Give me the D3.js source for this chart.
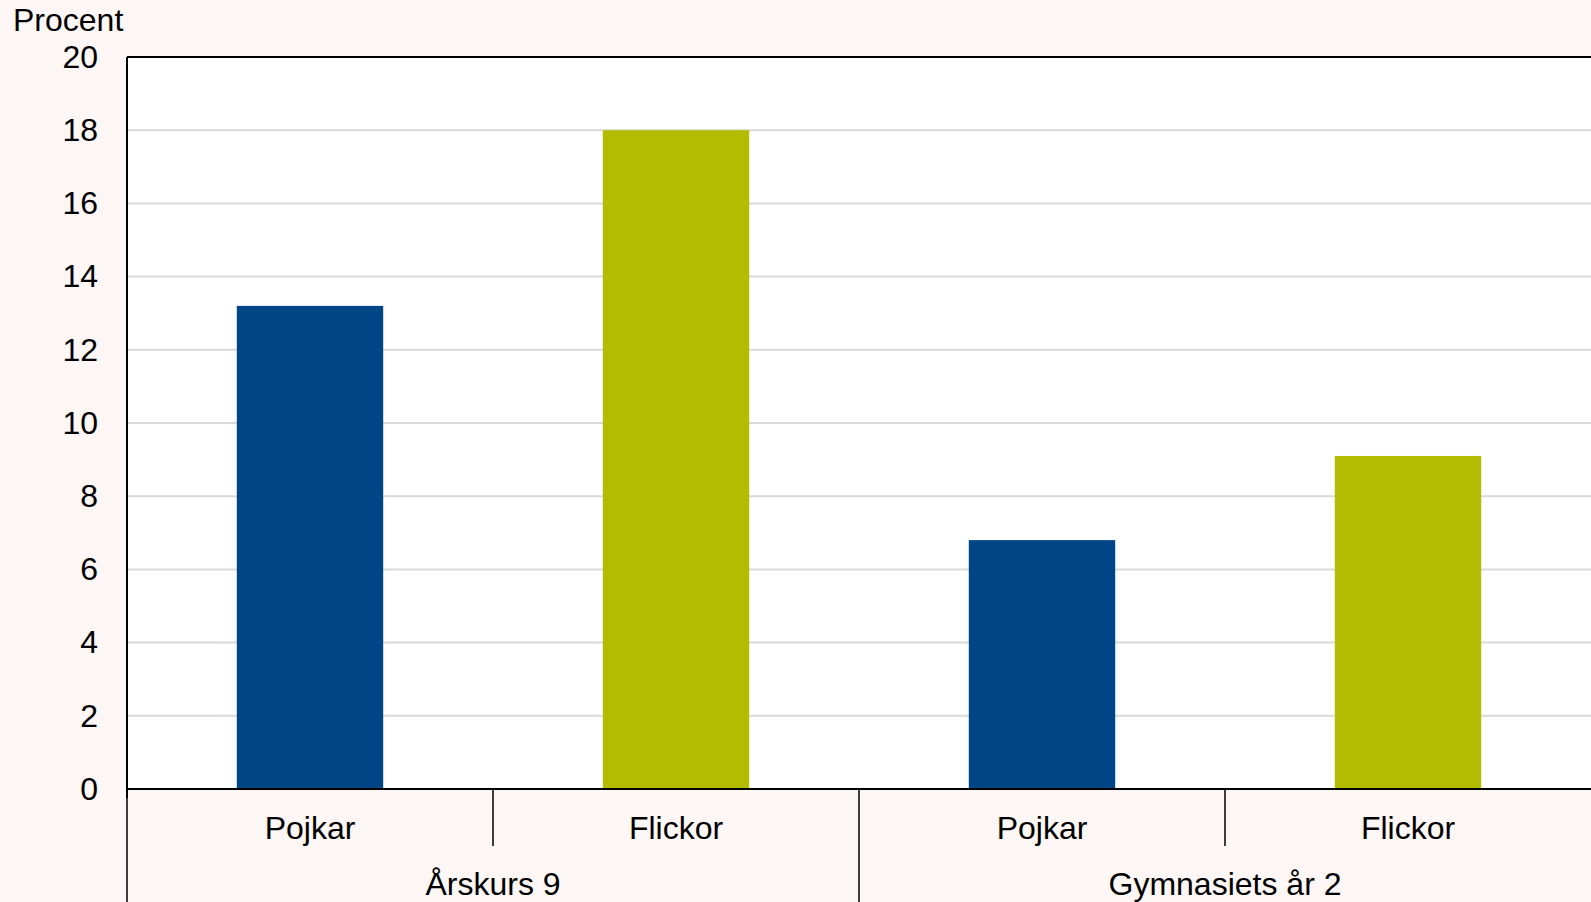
<!DOCTYPE html>
<html>
<head>
<meta charset="utf-8">
<script src="https://cdn.jsdelivr.net/npm/d3@7"></script>
<style>
  html, body { margin: 0; padding: 0; background: #fcf6f5; }
  svg { display: block; }
  text { font-family: "Liberation Sans", Arial, sans-serif; fill: #000; }
</style>
</head>
<body>
<svg id="chart" width="1591" height="902"></svg>
<script>
const groups = ["Årskurs 9", "Gymnasiets år 2"];
const sexes = ["Pojkar", "Flickor"];
const pojkar = [13.2, 6.8];
const flickor = [18.0, 9.1];
const yTicks = [0, 2, 4, 6, 8, 10, 12, 14, 16, 18, 20];
const yTitle = "Procent";
const colors = { "Pojkar": "#004687", "Flickor": "#b3bc00" };

const W = 1591, H = 902;
const m = { left: 127, right: 0, top: 57, bottom: 113 };
const FS = 32;
const svg = d3.select("#chart");

svg.append("rect").attr("width", W).attr("height", H).attr("fill", "#fcf6f5");

const y = d3.scaleLinear().domain([0, 20]).range([H - m.bottom, m.top]);
const x0 = d3.scaleBand().domain(groups).range([m.left, W - m.right]).padding(0);
const x1 = d3.scaleBand().domain(sexes).range([0, x0.bandwidth()]).paddingInner(0.6).paddingOuter(0.3);
const x1Full = d3.scaleBand().domain(sexes).range([0, x0.bandwidth()]).padding(0);

// plot area
svg.append("rect").attr("x", m.left).attr("y", y(20)).attr("width", W - m.right - m.left)
  .attr("height", y(0) - y(20)).attr("fill", "#ffffff");

// gridlines
svg.append("g").selectAll("line").data(yTicks.filter(d => d > 0 && d < 20)).join("line")
  .attr("x1", m.left).attr("x2", W - m.right)
  .attr("y1", d => y(d)).attr("y2", d => y(d))
  .attr("stroke", "#d9d9d9").attr("stroke-width", 2);

// bars
const data = [];
groups.forEach((g, i) => {
  data.push({ g, s: "Pojkar", v: pojkar[i] });
  data.push({ g, s: "Flickor", v: flickor[i] });
});
svg.append("g").selectAll("rect").data(data).join("rect")
  .attr("x", d => x0(d.g) + x1(d.s))
  .attr("width", x1.bandwidth())
  .attr("y", d => y(d.v))
  .attr("height", d => y(0) - y(d.v))
  .attr("fill", d => colors[d.s]);

// top border
svg.append("line").attr("x1", m.left).attr("x2", W).attr("y1", y(20)).attr("y2", y(20))
  .attr("stroke", "#000").attr("stroke-width", 2);

// y axis
const yAxis = d3.axisLeft(y).tickValues(yTicks).tickSize(0).tickPadding(29);
const ya = svg.append("g").attr("transform", `translate(${m.left},0)`).call(yAxis);
ya.select(".domain").remove();
ya.selectAll("text").attr("font-size", FS).attr("font-family", '"Liberation Sans", Arial, sans-serif').attr("fill", "#000");

// left axis line (extends to bottom)
svg.append("line").attr("x1", m.left).attr("x2", m.left).attr("y1", y(20)).attr("y2", y(0) + 9)
  .attr("stroke", "#000").attr("stroke-width", 2);
svg.append("line").attr("x1", m.left).attr("x2", m.left).attr("y1", y(0)).attr("y2", H)
  .attr("stroke", "#000").attr("stroke-width", 1.5);

// zero line
svg.append("line").attr("x1", m.left).attr("x2", W).attr("y1", y(0)).attr("y2", y(0))
  .attr("stroke", "#000").attr("stroke-width", 2);

// inner separators
groups.forEach(g => {
  const xs = x0(g) + x1Full("Flickor");
  svg.append("line").attr("x1", xs).attr("x2", xs).attr("y1", y(0)).attr("y2", y(0) + 57)
    .attr("stroke", "#000").attr("stroke-width", 1.5);
});
// group separators
groups.slice(1).forEach(g => {
  const xs = x0(g);
  svg.append("line").attr("x1", xs).attr("x2", xs).attr("y1", y(0)).attr("y2", H)
    .attr("stroke", "#000").attr("stroke-width", 1.5);
});

// category labels
svg.append("g").selectAll("text").data(data).join("text")
  .attr("x", d => x0(d.g) + x1(d.s) + x1.bandwidth() / 2)
  .attr("y", y(0) + 50)
  .attr("text-anchor", "middle").attr("font-size", FS)
  .text(d => d.s);

// group labels
svg.append("g").selectAll("text").data(groups).join("text")
  .attr("x", d => x0(d) + x0.bandwidth() / 2)
  .attr("y", y(0) + 106)
  .attr("text-anchor", "middle").attr("font-size", FS)
  .text(d => d);

// y title
svg.append("text").attr("x", 13).attr("y", 31).attr("font-size", FS).text(yTitle);
</script>
</body>
</html>
